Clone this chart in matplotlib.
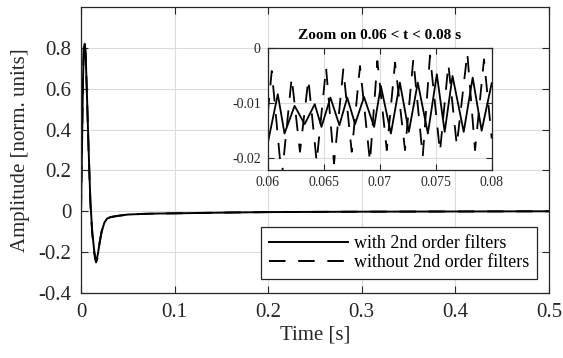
import numpy as np
import matplotlib
matplotlib.use('Agg')
import matplotlib.pyplot as plt

plt.rcParams['font.family'] = ['Liberation Serif', 'DejaVu Serif']
plt.rcParams['axes.unicode_minus'] = False

# --- data ---
# full response (coarse), shared time base
t_main = [0.0, 0.001, 0.002, 0.003, 0.004, 0.005, 0.006, 0.008, 0.010, 0.012,
          0.014, 0.015, 0.016, 0.017, 0.018, 0.020, 0.022, 0.025, 0.028, 0.032,
          0.040, 0.050, 0.065, 0.082, 0.10, 0.13, 0.16, 0.20, 0.25, 0.30, 0.40, 0.50]
y_with_main = [0.0, 0.30, 0.62, 0.80, 0.82, 0.76, 0.62, 0.32, 0.05, -0.10,
               -0.19, -0.22, -0.24, -0.23, -0.21, -0.15, -0.10, -0.055, -0.035, -0.028,
               -0.022, -0.016, -0.013, -0.011, -0.010, -0.008, -0.006, -0.004, -0.003, -0.002, -0.001, 0.0]
y_without_main = [0.0, 0.31, 0.63, 0.81, 0.83, 0.77, 0.62, 0.31, 0.04, -0.11,
                  -0.20, -0.23, -0.25, -0.24, -0.22, -0.15, -0.10, -0.055, -0.036, -0.028,
                  -0.022, -0.016, -0.013, -0.011, -0.010, -0.008, -0.006, -0.004, -0.003, -0.002, -0.001, 0.0]

# zoomed window 0.06 < t < 0.08 (peaks / troughs)
t_zoom_with = [0.0600, 0.0609, 0.0615, 0.0624, 0.0633, 0.0642, 0.0648, 0.0656, 0.0664,
               0.0671, 0.0678, 0.0686, 0.0695, 0.0701, 0.0710, 0.0718, 0.0726, 0.0734,
               0.0743, 0.0751, 0.0758, 0.0765, 0.0775, 0.0783, 0.0791, 0.0800]
y_zoom_with = [-0.0173, -0.0084, -0.0155, -0.0105, -0.0138, -0.0102, -0.0143, -0.0090, -0.0140,
               -0.0090, -0.0138, -0.0089, -0.0143, -0.0069, -0.0155, -0.0063, -0.0152, -0.0063,
               -0.0155, -0.0048, -0.0152, -0.0051, -0.0152, -0.0054, -0.0150, -0.0064]
t_zoom_without = [0.0600, 0.06036, 0.06125, 0.06214, 0.06288, 0.06363, 0.06437, 0.06521, 0.06592,
                  0.06675, 0.06750, 0.06824, 0.06913, 0.06979, 0.07063, 0.07137, 0.07226, 0.07300,
                  0.07384, 0.07449, 0.07538, 0.07613, 0.07688, 0.07782, 0.07851, 0.07931, 0.0800]
y_zoom_without = [-0.0120, -0.0042, -0.0235, -0.0054, -0.0188, -0.0057, -0.0206, -0.0036, -0.0209,
                  -0.0039, -0.0188, -0.0033, -0.0206, -0.0024, -0.0185, -0.0027, -0.0185, -0.0021,
                  -0.0197, -0.0014, -0.0188, -0.0030, -0.0176, -0.0010, -0.0185, -0.0021, -0.0164]

x_ticks = [0, 0.1, 0.2, 0.3, 0.4, 0.5]
x_tick_labels = ['0', '0.1', '0.2', '0.3', '0.4', '0.5']
y_ticks = [-0.4, -0.2, 0, 0.2, 0.4, 0.6, 0.8]
y_tick_labels = ['-0.4', '-0.2', '0', '0.2', '0.4', '0.6', '0.8']
zx_ticks = [0.06, 0.065, 0.07, 0.075, 0.08]
zx_tick_labels = ['0.06', '0.065', '0.07', '0.075', '0.08']
zy_ticks = [-0.02, -0.01, 0]
zy_tick_labels = ['-0.02', '-0.01', '0']

labels = ['with 2nd order filters', 'without 2nd order filters']

axis_color = '#262626'
grid_color = '#dcdcdc'
dash = (0, (8.5, 6.5))

fig = plt.figure(figsize=(5.63, 3.58), dpi=100)
ax = fig.add_axes([0.1439, 0.1816, 0.9751 - 0.1439, 0.9804 - 0.1816])

ax.plot(t_main, y_with_main, color='black', lw=1.4, label=labels[0])
ax.plot(t_main, y_without_main, color='black', lw=1.4, linestyle=dash, label=labels[1])

ax.set_xlim(0, 0.5)
ax.set_ylim(-0.4, 1.0)
ax.set_xticks(x_ticks)
ax.set_xticklabels(x_tick_labels)
ax.set_yticks(y_ticks)
ax.set_yticklabels(y_tick_labels)
ax.tick_params(direction='in', length=5, width=0.8, top=True, right=True,
               labelsize=15, colors=axis_color, labelcolor=axis_color, pad=7)
ax.grid(True, color=grid_color, linewidth=0.8)
ax.set_axisbelow(True)
for sp in ax.spines.values():
    sp.set_color(axis_color)
    sp.set_linewidth(0.9)
ax.set_xlabel('Time [s]', fontsize=15, color=axis_color, labelpad=3)
ax.set_ylabel('Amplitude [norm. units]', fontsize=15, color=axis_color, labelpad=6)

leg = ax.legend(loc='lower right', bbox_to_anchor=(0.975, 0.048), fontsize=13,
                handlelength=4.4, handletextpad=0.3, borderpad=0.45, labelspacing=0.1,
                borderaxespad=0, fancybox=False, framealpha=1, edgecolor=axis_color)
leg.get_frame().set_linewidth(0.9)

# inset
axin = fig.add_axes([0.4755, 0.5265, 0.3979, 0.3402])
axin.plot(t_zoom_with, y_zoom_with, color='black', lw=1.3, solid_joinstyle='round')
axin.plot(t_zoom_without, y_zoom_without, color='black', lw=1.3, linestyle=(0, (9, 7)))
axin.set_xlim(0.06, 0.08)
axin.set_ylim(-0.022, 0)
axin.set_xticks(zx_ticks)
axin.set_xticklabels(zx_tick_labels)
axin.set_yticks(zy_ticks)
axin.set_yticklabels(zy_tick_labels)
axin.tick_params(direction='in', length=4, width=0.8, top=True, right=True,
                 labelsize=10, colors=axis_color, labelcolor=axis_color, pad=5)
axin.grid(True, color=grid_color, linewidth=0.8)
axin.set_axisbelow(True)
for sp in axin.spines.values():
    sp.set_color(axis_color)
    sp.set_linewidth(0.9)
axin.set_title('Zoom on 0.06 < t < 0.08 s', fontsize=11, fontweight='bold', pad=6)

fig.savefig('out.png', dpi=100)
